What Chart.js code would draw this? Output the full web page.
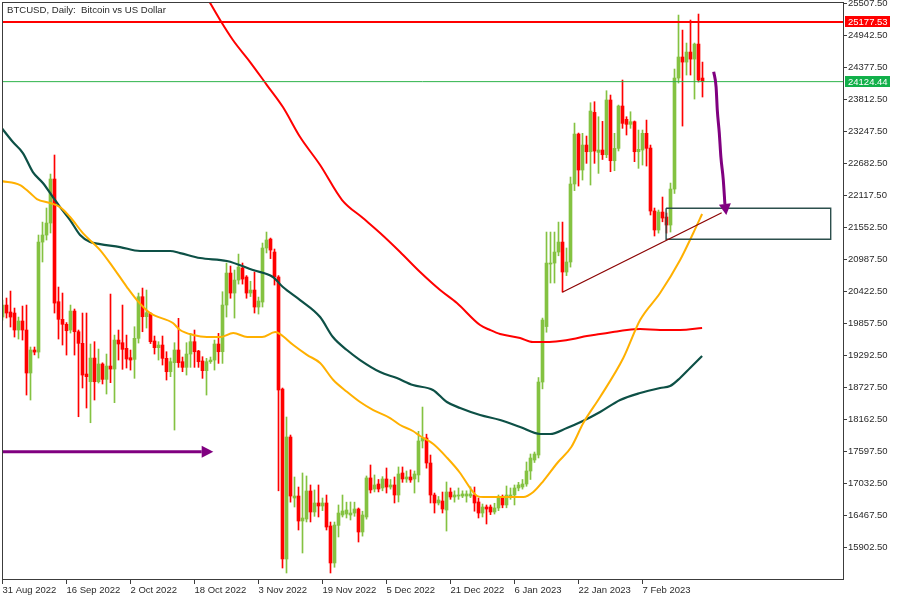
<!DOCTYPE html>
<html>
<head>
<meta charset="utf-8">
<script src="https://cdn.jsdelivr.net/npm/chart.js"></script>
<style>
  html, body { margin: 0; padding: 0; background: #fff; }
</style>
</head>
<body>
<canvas id="chart" width="900" height="600"></canvas>
<script>
// daily bars, bar -1 = 31 Aug 2022, bar 174 = 22 Feb 2023
var firstBar = -1;
var opens = [
  19968, 20180, 20057, 20039, 19739, 19898, 19739, 18980, 19386, 19350,
  21292, 21416, 21628, 22405, 20239, 19928, 19840, 19739, 20074, 19709,
  19504, 18962, 18826, 19244, 18826, 19139, 18868, 19103, 19050, 19562,
  19515, 19416, 19250, 19221, 19592, 20327, 19974, 20033, 19545, 19427,
  19474, 19239, 19003, 19162, 19386, 19180, 19080, 19315, 19533, 19368,
  19192, 19021, 19180, 19209, 19492, 19356, 20180, 20745, 20392, 20621,
  20833, 20675, 20392, 20445, 20145, 20233, 21187, 21345, 21116, 20675,
  18697, 15696, 17850, 16773, 16808, 16367, 16402, 16897, 16526, 16685,
  16632, 16685, 16279, 15626, 16290, 16473, 16490, 16473, 16508, 16579,
  16173, 16438, 17127, 16932, 17020, 16950, 17109, 16967, 17003, 16826,
  17215, 17109, 17144, 17109, 17180, 17780, 17833, 17391, 16826, 16685,
  16720, 16561, 16879, 16791, 16808, 16808, 16808, 16808, 16826, 16703,
  16508, 16614, 16614, 16526, 16597, 16773, 16650, 16808, 16826, 16950,
  16967, 17020, 17250, 17444, 17532, 18821, 19800, 20904, 20921, 21116,
  21292, 20763, 20940, 22317, 23199, 22564, 23005, 22887, 23582, 22876,
  22917, 22834, 23800, 22728, 22946, 23694, 23459, 23371, 23417, 22887,
  22917, 23212, 22952, 21840, 21505, 21822, 21734, 21593, 22228, 24188,
  24559, 24470, 24647, 24523, 24788, 24188
];
var highs = [
  20268, 20304, 20427, 20127, 19968, 20162, 20180, 19439, 19439, 21416,
  21645, 21893, 22493, 22829, 20498, 20392, 19870, 20180, 20110, 19739,
  20039, 20039, 19492, 19533, 19403, 19160, 19315, 20374, 19650, 19739,
  20180, 19650, 19386, 19797, 20392, 20480, 20445, 20050, 19633, 19533,
  19633, 19356, 19245, 19515, 19945, 19262, 19515, 19680, 19739, 19380,
  19268, 19239, 19262, 19562, 19680, 20415, 20922, 20869, 20798, 21080,
  20922, 20700, 20600, 20763, 20321, 21275, 21469, 21363, 21169, 20700,
  18715, 18203, 17885, 17144, 16967, 17215, 17162, 17003, 16915, 17003,
  16773, 16826, 16349, 16349, 16650, 16826, 16700, 16703, 16700, 16597,
  16540, 17162, 17356, 17180, 17100, 17150, 17303, 17100, 17144, 17321,
  17321, 17250, 17270, 17250, 17950, 18379, 17900, 17532, 16861, 16800,
  16879, 17056, 16950, 16900, 16950, 16900, 16900, 16970, 16967, 16773,
  16667, 16650, 16650, 16680, 16826, 16826, 16985, 16950, 17003, 17050,
  17100, 17409, 17550, 17585, 18900, 19950, 21469, 21469, 21469, 21645,
  21645, 21187, 22440, 23393, 23217, 23212, 23164, 23752, 23770, 23505,
  23423, 23964, 23888, 23212, 23711, 24153, 23505, 23593, 23430, 23270,
  23270, 23446, 23005, 21893, 21858, 22087, 21805, 22334, 24347, 25300,
  25035, 24806, 25212, 24806, 25318, 24470
];
var lows = [
  19915, 19951, 19792, 19615, 19580, 19562, 18591, 18503, 19300, 19244,
  20940, 21328, 21452, 20039, 19580, 19474, 19297, 19686, 19297, 18208,
  18715, 18362, 18102, 18503, 18803, 18786, 18609, 18809, 18456, 19209,
  19045, 19068, 19032, 18886, 19509, 19709, 19774, 19500, 19315, 19209,
  19121, 18856, 18915, 17973, 19080, 19003, 18944, 19080, 19080, 19080,
  18886, 18591, 19150, 19032, 19150, 19150, 19968, 20300, 19950, 20550,
  20550, 20300, 20330, 20039, 20021, 20145, 21100, 21000, 20533, 16900,
  15537, 15449, 16700, 16614, 16208, 15802, 16350, 16350, 16450, 16438,
  16550, 16208, 15449, 15550, 16085, 16438, 16420, 16385, 16450, 15996,
  16100, 16400, 16861, 16880, 16880, 16900, 16861, 16930, 16685, 16703,
  17050, 17050, 17050, 16861, 17056, 17656, 17300, 16685, 16508, 16650,
  16508, 16190, 16750, 16700, 16750, 16780, 16700, 16780, 16540, 16420,
  16438, 16314, 16480, 16490, 16550, 16600, 16600, 16750, 16650, 16900,
  16930, 16980, 17100, 17400, 17480, 18700, 19700, 20569, 20569, 21050,
  20410, 20700, 20850, 22200, 22281, 22387, 22682, 22299, 22682, 22505,
  22750, 22782, 22534, 22552, 22900, 23300, 23182, 23300, 22711, 22594,
  22652, 22634, 21770, 21399, 21450, 21650, 21450, 21469, 22150, 24100,
  23340, 24241, 24241, 23817, 24118, 23853
];
var closes = [
  20180, 20039, 19968, 19739, 19898, 19739, 18980, 19386, 19350, 21292,
  21416, 21628, 22405, 20215, 19928, 19840, 19727, 20074, 19709, 19504,
  18944, 18915, 19244, 18826, 19139, 18868, 19103, 19050, 19562, 19492,
  19398, 19227, 19209, 19592, 20327, 19974, 20045, 19533, 19427, 19474,
  19239, 19003, 19180, 19386, 19162, 19080, 19315, 19533, 19356, 19180,
  19021, 19180, 19209, 19492, 19356, 20180, 20745, 20392, 20621, 20851,
  20639, 20392, 20445, 20145, 20251, 21187, 21328, 21151, 20675, 18680,
  15696, 17850, 16808, 16808, 16367, 16420, 16897, 16526, 16685, 16632,
  16685, 16261, 15626, 16296, 16508, 16544, 16561, 16508, 16579, 16173,
  16473, 17127, 16915, 17003, 16932, 17109, 16967, 17003, 16826, 17197,
  17109, 17144, 17091, 17197, 17780, 17833, 17391, 16826, 16685, 16738,
  16579, 16879, 16791, 16826, 16826, 16844, 16844, 16844, 16685, 16508,
  16614, 16579, 16526, 16597, 16773, 16650, 16826, 16826, 16950, 17003,
  17020, 17250, 17479, 17550, 18821, 19915, 20921, 20921, 21116, 21292,
  20763, 20940, 22317, 23199, 22564, 23005, 22887, 23605, 22899, 22917,
  22834, 23800, 22728, 22946, 23694, 23388, 23371, 23417, 22887, 22929,
  23212, 22947, 21840, 21505, 21822, 21716, 21593, 22228, 24188, 24559,
  24470, 24647, 24523, 24788, 24153, 24124.44
];

var tickBars = [-1, 15, 31, 47, 63, 79, 95, 111, 127, 143, 159];
var tickLabels = ['31 Aug 2022', '16 Sep 2022', '2 Oct 2022', '18 Oct 2022', '3 Nov 2022',
  '19 Nov 2022', '5 Dec 2022', '21 Dec 2022', '6 Jan 2023', '22 Jan 2023', '7 Feb 2023'];
var priceTicks = [15902.5, 16467.5, 17032.5, 17597.5, 18162.5, 18727.5, 19292.5, 19857.5, 20422.5,
  20987.5, 21552.5, 22117.5, 22682.5, 23247.5, 23812.5, 24377.5, 24942.5, 25507.5];

// moving averages
var ma50Bars = [-1.2, 3.4, 5.9, 7.6, 10.9, 13.4, 15.9, 19.1, 23.4, 26.6, 30.1, 32.6, 35.9, 41.6, 43.4,
  46.7, 50.1, 53.4, 56.7, 60.2, 63.9, 67.2, 68.4, 71.7, 75.2, 78.4, 81.7, 85.2, 88.4, 91.7, 95.9, 98.4,
  101.6, 103.4, 106.7, 110.2, 113.4, 115.9, 117.7, 119.2, 129.2, 131.7, 134.2, 137.7, 141.2, 144.2,
  148.4, 154.2, 158.4, 163.4, 168.4, 171.7, 173.9];
var ma50 = [22369, 22299, 22158, 22052, 21981, 21910, 21734, 21451, 21151, 20851, 20498, 20268, 20039,
  19862, 19739, 19651, 19615, 19615, 19686, 19615, 19615, 19703, 19668, 19474, 19297, 19156, 18856,
  18644, 18468, 18326, 18185, 18062, 17956, 17868, 17726, 17479, 17215, 16950, 16808, 16791, 16791,
  16879, 17073, 17391, 17673, 18097, 18556, 19244, 19915, 20392, 20975, 21452, 21787];
var ma100Bars = [-1.2, 1.6, 4.1, 6.6, 9.1, 11.6, 13.4, 15.9, 18.4, 20.9, 23.4, 28.4, 33.4, 40.9, 43.4,
  48.4, 55.1, 61.6, 66.6, 69.1, 73.4, 78.4, 81.6, 85.1, 88.4, 93.4, 97.6, 101.6, 106.6, 110.1, 113.4,
  118.4, 123.4, 128.4, 133.4, 135.9, 140.1, 144.1, 148.4, 153.4, 158.4, 163.4, 165.9, 168.4, 170.9, 173.9];
var ma100 = [23305, 23058, 22864, 22528, 22334, 22087, 21910, 21681, 21416, 21292, 21257, 21204, 21134,
  21134, 21098, 21010, 20957, 20798, 20675, 20498, 20268, 19968, 19615, 19386, 19209, 18997, 18891,
  18768, 18680, 18468, 18362, 18238, 18150, 18026, 17903, 17903, 18009, 18132, 18291, 18503, 18627,
  18715, 18750, 18892, 19068, 19280];
var ma200Bars = [49.9, 53.4, 56.6, 60.9, 65.1, 69.1, 73.4, 78.4, 83.9, 89.1, 93.4, 98.4, 103.4, 108.4,
  112.6, 118.4, 120.9, 123.4, 128.4, 131.6, 135.1, 138.4, 141.6, 145.1, 148.4, 151.6, 155.1, 158.4,
  163.4, 168.4, 173.9];
var ma200 = [25636, 25212, 24859, 24470, 24064, 23676, 23146, 22652, 22034, 21716, 21451, 21116, 20763,
  20445, 20216, 19827, 19739, 19668, 19598, 19527, 19527, 19545, 19580, 19633, 19668, 19703, 19739,
  19756, 19739, 19739, 19774];

// drawn objects
var resistance = 25177.53;
var lastPrice = 24124.44;
var trendBars = [138.95, 178.8];
var trendPrices = [20405, 21810];
var zoneBars = [164.9, 206.05];
var zonePrices = [21341, 21888];
var leftArrowBars = [-1.4, 48.8, 51.7];
var leftArrowPrices = [17590, 17590, 17590];
var dropArrowBars = [176.8, 177.4, 177.7, 178.2, 178.6, 179.2, 179.6, 179.95];
var dropArrowPrices = [24299, 24029, 23623, 23217, 22793, 22387, 21963, 21769];

var xMin = -1.125, xMax = 209.125;
var yMin = 15343, yMax = 25513;

var bull = '#84c241', bear = '#ff0000', purple = '#800080';
var axisColor = '#3c3c3c';

function pts(xs, ys) {
  return xs.map(function(x, k) { return { x: x, y: ys[k] }; });
}
var barColors = opens.map(function(o, k) { return closes[k] >= o ? bull : bear; });
var wickData = opens.map(function(o, k) { return { x: firstBar + k, y: [lows[k], highs[k]] }; });
var bodyData = opens.map(function(o, k) { return { x: firstBar + k, y: [o, closes[k]] }; });

function lineSet(data, color, width, extra) {
  var ds = {
    type: 'line', data: data, borderColor: color, borderWidth: width,
    pointRadius: 0, fill: false, tension: 0, order: 0, clip: 0
  };
  for (var key in extra) ds[key] = extra[key];
  return ds;
}

var overlay = {
  id: 'overlay',
  afterDatasetsDraw: function(chart) {
    var ctx = chart.ctx, xs = chart.scales.x, ys = chart.scales.y;
    [[leftArrowBars, leftArrowPrices], [dropArrowBars, dropArrowPrices]].forEach(function(a) {
      var n = a[0].length;
      var bx = xs.getPixelForValue(a[0][n - 2]), by = ys.getPixelForValue(a[1][n - 2]);
      var tx = xs.getPixelForValue(a[0][n - 1]), ty = ys.getPixelForValue(a[1][n - 1]);
      var dx = tx - bx, dy = ty - by, len = Math.sqrt(dx * dx + dy * dy);
      var nx = -dy / len * 6, ny = dx / len * 6;
      ctx.save();
      ctx.fillStyle = purple;
      ctx.beginPath();
      ctx.moveTo(tx, ty);
      ctx.lineTo(bx + nx, by + ny);
      ctx.lineTo(bx - nx, by - ny);
      ctx.closePath();
      ctx.fill();
      ctx.restore();
    });
  },
  afterDraw: function(chart) {
    var ctx = chart.ctx, a = chart.chartArea, ys = chart.scales.y;
    ctx.save();
    // frame
    ctx.strokeStyle = axisColor;
    ctx.lineWidth = 1;
    ctx.strokeRect(Math.round(a.left) + 0.5, Math.round(a.top) - 0.5,
      Math.round(a.right - a.left), Math.round(a.bottom - a.top) + 1);
    // title
    ctx.fillStyle = '#2a2a2a';
    ctx.font = '9.6px "Liberation Sans", Arial, sans-serif';
    ctx.textBaseline = 'middle';
    ctx.textAlign = 'left';
    ctx.fillText('BTCUSD, Daily:  Bitcoin vs US Dollar', 7, 10);
    // price tags
    [[resistance, '#ff0000'], [lastPrice, '#12b04a']].forEach(function(t) {
      var y = Math.round(ys.getPixelForValue(t[0]));
      ctx.fillStyle = t[1];
      ctx.fillRect(a.right + 2, y - 6, 45, 11);
      ctx.fillStyle = '#ffffff';
      ctx.font = '9.5px "Liberation Sans", Arial, sans-serif';
      ctx.fillText(t[0].toFixed(2), a.right + 5, y);
    });
    ctx.restore();
  }
};

Chart.defaults.font.family = '"Liberation Sans", Arial, sans-serif';
Chart.defaults.font.size = 9.5;

new Chart(document.getElementById('chart').getContext('2d'), {
  type: 'bar',
  data: {
    datasets: [
      lineSet(pts(leftArrowBars.slice(0, -1), leftArrowPrices.slice(0, -1)), purple, 3),
      lineSet(pts(dropArrowBars.slice(0, -1), dropArrowPrices.slice(0, -1)), purple, 3,
        { cubicInterpolationMode: 'monotone' }),
      lineSet(pts(trendBars, trendPrices), '#8b0000', 1.2),
      lineSet([
        { x: zoneBars[0], y: zonePrices[1] }, { x: zoneBars[1], y: zonePrices[1] },
        { x: zoneBars[1], y: zonePrices[0] }, { x: zoneBars[0], y: zonePrices[0] },
        { x: zoneBars[0], y: zonePrices[1] }
      ], '#2c4f4c', 1.4),
      lineSet([{ x: xMin, y: resistance }, { x: xMax, y: resistance }], '#ff0000', 2.2),
      lineSet([{ x: xMin, y: lastPrice }, { x: xMax, y: lastPrice }], '#2db34a', 1),
      lineSet(pts(ma50Bars, ma50), '#ffb000', 2, { cubicInterpolationMode: 'monotone' }),
      lineSet(pts(ma100Bars, ma100), '#0d5046', 2.2, { cubicInterpolationMode: 'monotone' }),
      lineSet(pts(ma200Bars, ma200), '#ff0000', 2, { cubicInterpolationMode: 'monotone' }),
      {
        type: 'bar', data: bodyData, backgroundColor: barColors, borderWidth: 0,
        barThickness: 3, minBarLength: 1, grouped: false, order: 1
      },
      {
        type: 'bar', data: wickData, backgroundColor: barColors, borderWidth: 0,
        barThickness: 1, grouped: false, order: 2
      }
    ]
  },
  options: {
    responsive: false,
    animation: false,
    events: [],
    layout: { padding: { left: 2, top: 3, right: 0, bottom: 0 } },
    plugins: { legend: { display: false }, tooltip: { enabled: false } },
    scales: {
      x: {
        type: 'linear', min: xMin, max: xMax, offset: false,
        grid: { drawOnChartArea: false, drawTicks: true, tickLength: 5, color: axisColor, offset: false },
        border: { display: false },
        ticks: {
          autoSkip: false, maxRotation: 0, minRotation: 0, align: 'start', padding: 1,
          color: '#2a2a2a', font: { size: 9.5 },
          callback: function(v, k) { return tickLabels[k]; }
        },
        afterBuildTicks: function(s) { s.ticks = tickBars.map(function(v) { return { value: v }; }); },
        afterFit: function(s) { s.height = 21; s.paddingLeft = 0; s.paddingRight = 0; }
      },
      y: {
        type: 'linear', position: 'right', min: yMin, max: yMax, beginAtZero: false,
        grid: { drawOnChartArea: false, drawTicks: true, tickLength: 4, color: axisColor },
        border: { display: false },
        ticks: {
          padding: 1, color: '#2a2a2a', font: { size: 9.5 },
          callback: function(v) { return Number(v).toFixed(2); }
        },
        afterBuildTicks: function(s) { s.ticks = priceTicks.map(function(v) { return { value: v }; }); },
        afterFit: function(s) { s.width = 57; s.paddingTop = 0; s.paddingBottom = 0; }
      }
    }
  },
  plugins: [overlay]
});
</script>
</body>
</html>
